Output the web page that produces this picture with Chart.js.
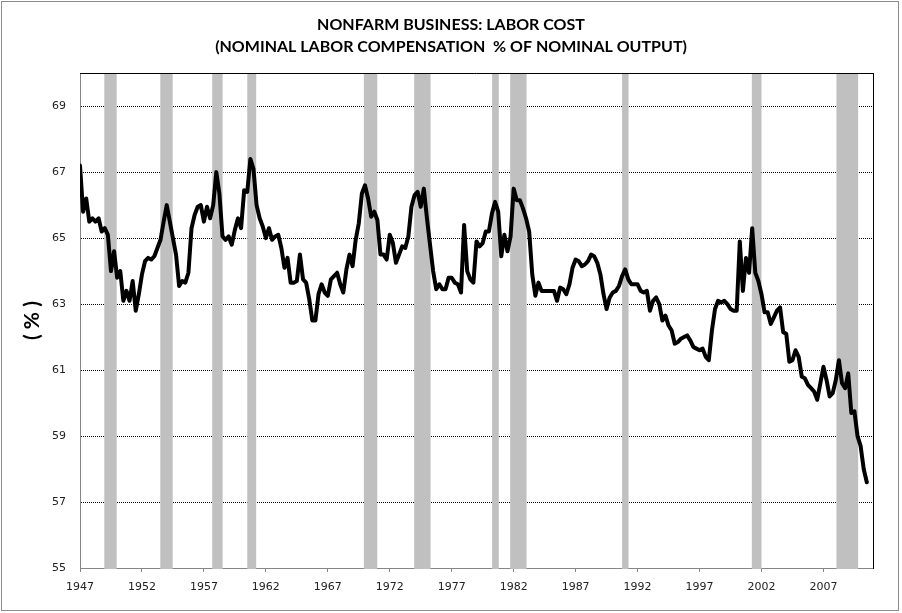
<!DOCTYPE html>
<html lang="en">
<head>
    <meta charset="UTF-8">
    <title>Nonfarm Business: Labor Cost</title>
    <script src="https://cdn.jsdelivr.net/npm/chart.js@4"></script>
    <style>
        body {
            margin: 0;
            background-color: #fff;
        }
        .frame {
            position: relative;
            width: 902px;
            height: 613px;
        }
        .frame canvas {
            position: absolute;
            left: 0;
            top: 0;
        }
        .edge {
            position: absolute;
            left: 1px;
            top: 1px;
            width: 896px;
            height: 608px;
            border: 1px solid #8c8c8c;
            pointer-events: none;
        }
    </style>
</head>
<body>
    <div class="frame">
        <canvas id="laborChart" width="902" height="613"></canvas>
        <div class="edge"></div>
    </div>

    <script>
        // quarterly, starting 1947 Q1
        const firstYear = 1947;
        const laborShare = [
            67.2, 65.8, 66.2, 65.5, 65.6, 65.5, 65.6, 65.2, 65.3, 65.1,
            64.0, 64.6, 63.8, 64.0, 63.1, 63.4, 63.1, 63.7, 62.8, 63.3,
            63.9, 64.3, 64.4, 64.35, 64.45, 64.7, 64.95, 65.5, 66.0, 65.5,
            65.0, 64.5, 63.55, 63.7, 63.65, 63.95, 65.3, 65.7, 65.95, 66.0,
            65.5, 65.95, 65.6, 66.0, 67.0, 66.35, 65.05, 64.95, 65.05, 64.8,
            65.25, 65.6, 65.3, 66.45, 66.4, 67.4, 67.1, 66.0, 65.6, 65.35,
            65.0, 65.3, 64.95, 65.05, 65.1, 64.7, 64.1, 64.4, 63.65, 63.65,
            63.7, 64.5, 63.75, 63.65, 63.15, 62.5, 62.5, 63.3, 63.6, 63.35,
            63.25, 63.75, 63.85, 63.95, 63.6, 63.35, 64.05, 64.5, 64.15, 64.95,
            65.45, 66.35, 66.6, 66.2, 65.65, 65.8, 65.55, 64.5, 64.5, 64.35,
            65.1, 64.85, 64.25, 64.5, 64.75, 64.7, 65.05, 65.95, 66.3, 66.4,
            65.95, 66.5, 65.6, 64.8, 64.0, 63.45, 63.6, 63.45, 63.45, 63.8,
            63.8, 63.65, 63.6, 63.35, 65.4, 64.0, 63.75, 63.65, 64.9, 64.75,
            64.85, 65.2, 65.2, 65.75, 66.1, 65.8, 64.45, 65.1, 64.6, 65.05,
            66.5, 66.15, 66.15, 65.9, 65.6, 65.2, 63.9, 63.25, 63.65, 63.4,
            63.4, 63.4, 63.4, 63.4, 63.1, 63.5, 63.45, 63.3, 63.6, 64.1,
            64.35, 64.3, 64.15, 64.2, 64.3, 64.5, 64.45, 64.25, 63.9, 63.3,
            62.85, 63.2, 63.35, 63.4, 63.55, 63.85, 64.05, 63.75, 63.6, 63.6,
            63.6, 63.4, 63.35, 63.4, 62.8, 63.1, 63.2, 63.0, 62.5, 62.65,
            62.35, 62.2, 61.8, 61.85, 61.95, 62.0, 62.05, 61.9, 61.7, 61.65,
            61.6, 61.65, 61.4, 61.3, 62.2, 62.85, 63.1, 63.05, 63.1, 63.0,
            62.85, 62.8, 62.8, 64.9, 63.4, 64.4, 63.95, 65.3, 63.95, 63.7,
            63.3, 62.75, 62.75, 62.4, 62.6, 62.8, 62.9, 62.15, 62.1, 61.25,
            61.3, 61.6, 61.4, 60.8, 60.75, 60.55, 60.45, 60.35, 60.1, 60.6,
            61.1, 60.7, 60.2, 60.3, 60.7, 61.3, 60.6, 60.45, 60.9, 59.7,
            59.75, 59.0, 58.7, 58.0, 57.6
        ];

        // shaded recession periods (year fractions)
        const recessionStart = [1948.96, 1953.48, 1957.67, 1960.50, 1969.91, 1973.97, 1980.26, 1981.72, 1990.75, 2001.22, 2008.05];
        const recessionEnd   = [1949.96, 1954.48, 1958.51, 1961.22, 1970.99, 1975.29, 1980.80, 1983.04, 1991.27, 2002.00, 2009.80];

        const xTickYears = [1947, 1952, 1957, 1962, 1967, 1972, 1977, 1982, 1987, 1992, 1997, 2002, 2007];
        const yTickValues = [55, 57, 59, 61, 63, 65, 67, 69];

        const titleLines = [
            'NONFARM BUSINESS: LABOR COST',
            '(NOMINAL LABOR COMPENSATION  % OF NOMINAL OUTPUT)'
        ];

        const points = laborShare.map((v, i) => ({ x: firstYear + i / 4, y: v }));

        const recessionShading = {
            id: 'recessionShading',
            beforeDatasetsDraw(chart) {
                const { ctx, chartArea, scales } = chart;
                ctx.save();
                ctx.fillStyle = '#c0c0c0';
                for (let i = 0; i < recessionStart.length; i++) {
                    const x1 = scales.x.getPixelForValue(recessionStart[i]);
                    const x2 = scales.x.getPixelForValue(recessionEnd[i]);
                    ctx.fillRect(x1, chartArea.top, x2 - x1, chartArea.bottom - chartArea.top + 1);
                }
                ctx.restore();
            },
            afterDatasetsDraw(chart) {
                const { ctx, chartArea } = chart;
                ctx.save();
                ctx.strokeStyle = '#000';
                ctx.lineWidth = 1;
                ctx.beginPath();
                ctx.moveTo(chartArea.left, Math.round(chartArea.top) + 0.5);
                ctx.lineTo(chartArea.right, Math.round(chartArea.top) + 0.5);
                ctx.stroke();
                ctx.restore();
            }
        };

        new Chart(document.getElementById('laborChart').getContext('2d'), {
            type: 'line',
            data: {
                datasets: [{
                    data: points,
                    borderColor: '#000',
                    borderWidth: 4,
                    pointRadius: 0,
                    tension: 0,
                    borderJoinStyle: 'round',
                    borderCapStyle: 'round',
                    fill: false
                }]
            },
            options: {
                responsive: false,
                animation: false,
                devicePixelRatio: 1,
                layout: { padding: 0 },
                plugins: {
                    legend: { display: false },
                    tooltip: { enabled: false },
                    title: {
                        display: true,
                        text: titleLines,
                        color: '#000',
                        font: { family: "Lato, sans-serif", weight: 'bold', size: 16, lineHeight: 1.38 },
                        padding: { top: 14, bottom: 15 }
                    }
                },
                scales: {
                    x: {
                        type: 'linear',
                        min: 1947,
                        max: 2011,
                        afterBuildTicks: s => { s.ticks = xTickYears.map(v => ({ value: v })); },
                        afterFit: s => { s.height = 45; },
                        grid: {
                            drawOnChartArea: false,
                            drawTicks: true,
                            tickLength: 4,
                            color: '#868686'
                        },
                        border: { color: '#868686' },
                        ticks: {
                            callback: v => String(v),
                            font: { family: "'DejaVu Sans'", size: 11 },
                            color: '#222',
                            padding: 9,
                            maxRotation: 0
                        }
                    },
                    y: {
                        min: 55,
                        max: 70,
                        afterBuildTicks: s => { s.ticks = yTickValues.map(v => ({ value: v })); },
                        afterFit: s => { s.width = 80; },
                        grid: {
                            drawTicks: false,
                            color: c => (c.tick && c.tick.value === 55) ? 'rgba(0,0,0,0)' : '#000'
                        },
                        border: { color: '#868686', dash: [1, 1] },
                        ticks: {
                            font: { family: "'DejaVu Sans'", size: 11 },
                            color: '#222',
                            padding: 14
                        },
                        title: {
                            display: true,
                            text: '( % )',
                            color: '#000',
                            font: { family: "Lato, sans-serif", weight: 'bold', size: 21, lineHeight: 1.2 },
                            padding: { top: 20, bottom: 0 }
                        }
                    },
                    y2: {
                        position: 'right',
                        min: 55,
                        max: 70,
                        afterFit: s => { s.width = 29; },
                        grid: { display: false },
                        border: { display: true, color: '#000' },
                        ticks: { display: false }
                    }
                }
            },
            plugins: [recessionShading]
        });
    </script>
</body>
</html>
